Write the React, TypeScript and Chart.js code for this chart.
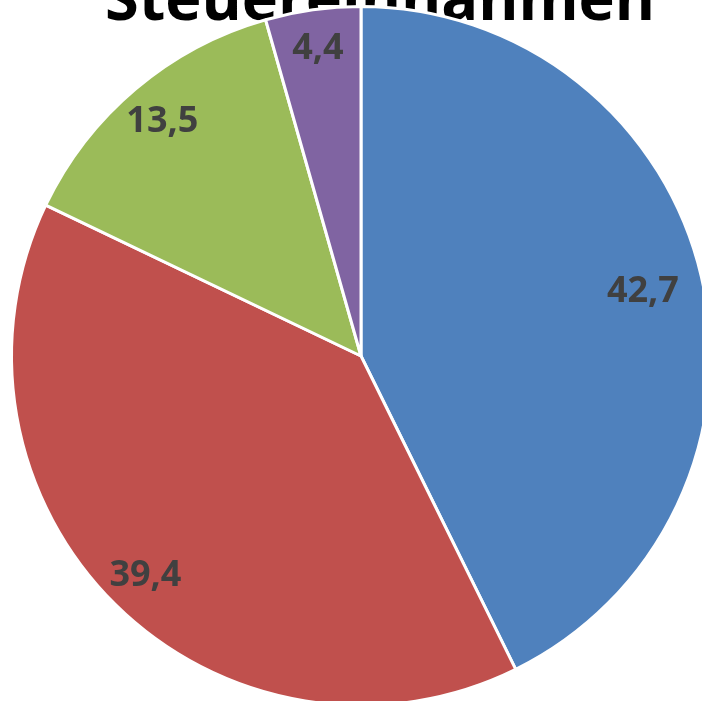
import React, { useEffect, useRef } from "react";
import { Chart, registerables } from "chart.js";

Chart.register(...registerables);

const chartTitle = "Steuereinnahmen";
const categories = ["A", "B", "C", "D"];
const values = [42.7, 39.4, 13.5, 4.4];
const valueLabels = ["42,7", "39,4", "13,5", "4,4"];
const sliceColors = ["#4F81BD", "#C0504D", "#9BBB59", "#8064A2"];

const titlePlugin = {
  id: "behindTitle",
  beforeDatasetsDraw(chart: any) {
    const ctx = chart.ctx;
    ctx.save();
    let size = 60;
    ctx.font = `bold ${size}px "Open Sans"`;
    const w = ctx.measureText(chartTitle).width;
    size = size * (550 / w);
    ctx.font = `bold ${size}px "Open Sans"`;
    ctx.fillStyle = "#000000";
    ctx.textAlign = "center";
    ctx.textBaseline = "alphabetic";
    ctx.fillText(chartTitle, 380, 20);
    ctx.restore();
  },
};

const labelPlugin = {
  id: "insideEndLabels",
  afterDatasetsDraw(chart: any) {
    const ctx = chart.ctx;
    const meta = chart.getDatasetMeta(0);
    ctx.save();
    ctx.font = `bold 36px "Open Sans"`;
    ctx.fillStyle = "#404040";
    ctx.textAlign = "center";
    ctx.textBaseline = "alphabetic";
    meta.data.forEach((arc: any, i: number) => {
      const { x, y, startAngle, endAngle, outerRadius } = arc.getProps(
        ["x", "y", "startAngle", "endAngle", "outerRadius"],
        true
      );
      const mid = (startAngle + endAngle) / 2;
      const dx = Math.cos(mid);
      const dy = Math.sin(mid);
      const text = valueLabels[i];
      const m = ctx.measureText(text);
      const hw = m.width / 2;
      const hh = 14;
      const t = Math.min(
        Math.abs(dx) > 1e-6 ? hw / Math.abs(dx) : Infinity,
        Math.abs(dy) > 1e-6 ? hh / Math.abs(dy) : Infinity
      );
      const r = outerRadius - 23 - t;
      const cx = x + dx * r;
      const cy = y + dy * r;
      ctx.fillText(text, cx, cy + 12);
    });
    ctx.restore();
  },
};

export default function App() {
  const ref = useRef<HTMLCanvasElement | null>(null);
  useEffect(() => {
    if (!ref.current) return;
    const chart = new Chart(ref.current, {
      type: "pie",
      data: {
        labels: categories,
        datasets: [
          {
            data: values,
            backgroundColor: sliceColors,
            borderColor: "#FFFFFF",
            borderWidth: 3,
          },
        ],
      },
      options: {
        animation: false,
        responsive: false,
        devicePixelRatio: 1,
        layout: { padding: { left: 10, top: 5, right: 18, bottom: 13 } },
        plugins: {
          legend: { display: false },
          tooltip: { enabled: false },
          title: { display: false },
        },
      },
      plugins: [titlePlugin, labelPlugin],
    });
    return () => chart.destroy();
  }, []);
  return (
    <div
      style={{
        position: "fixed",
        left: 0,
        top: 0,
        width: 702,
        height: 701,
        overflow: "hidden",
        background: "#FFFFFF",
      }}
    >
      <canvas ref={ref} width={730} height={720} style={{ display: "block" }} />
    </div>
  );
}
